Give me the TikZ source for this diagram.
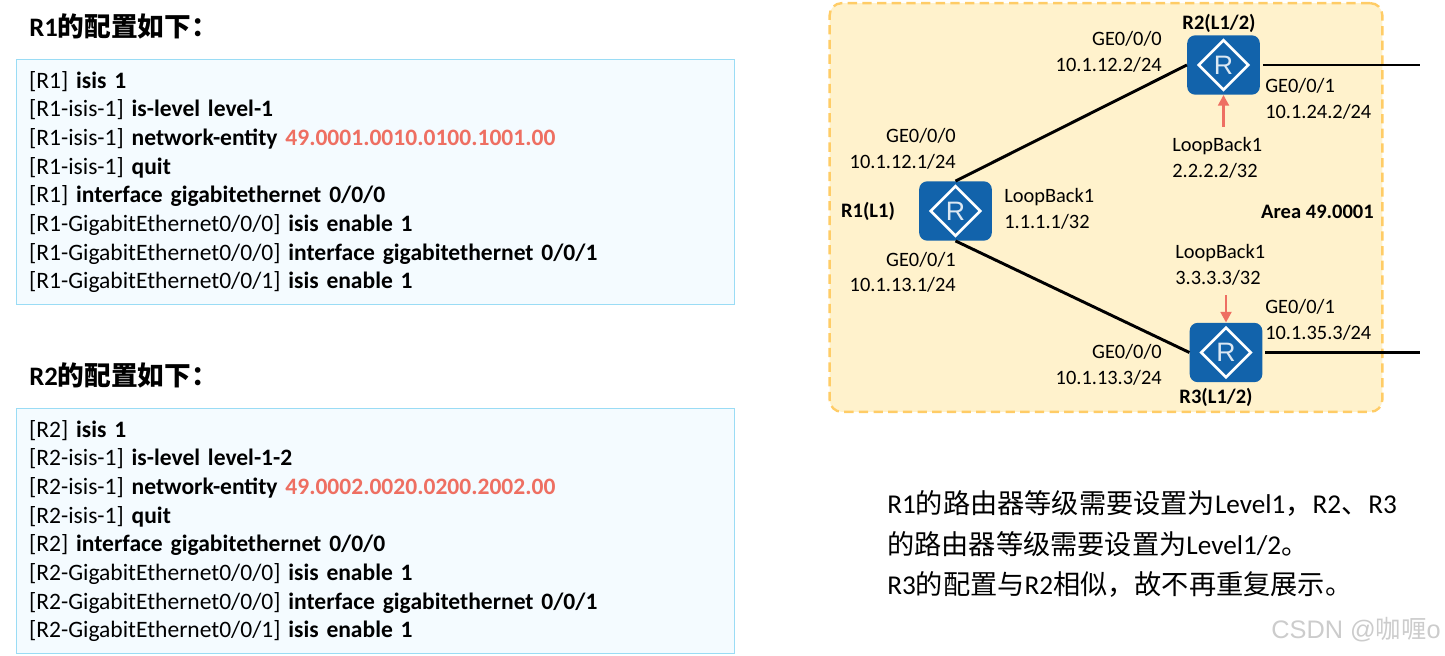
\documentclass[tikz,border=0pt]{standalone}
\usepackage{fontspec}
\setmainfont{Carlito}
\newfontfamily\cjk{Noto Sans CJK SC}
\newfontfamily\wmfont{Liberation Sans}
\usetikzlibrary{arrows.meta,shapes.geometric}
\definecolor{codefill}{HTML}{F4FBFF}
\definecolor{codeline}{HTML}{9ADCF5}
\definecolor{accent}{HTML}{EE6F62}
\definecolor{areafill}{HTML}{FFF2CC}
\definecolor{arealine}{HTML}{FFCC66}
\definecolor{routerblue}{HTML}{1263AB}
\newcommand{\zh}[1]{{\cjk #1}}
\newcommand{\hl}[1]{\textcolor{accent}{#1}}
\tikzset{
  x=0.75pt,y=-0.75pt,
  codebox/.style={draw=codeline,line width=0.6pt,fill=codefill,minimum width=539pt,minimum height=184pt,
    text width=519.5pt,inner xsep=9.5pt,inner ysep=0pt,align=left,font=\fontsize{17.65}{21.5}\selectfont},
  heading/.style={anchor=west,inner sep=0pt,font=\fontsize{20}{24}\selectfont\bfseries},
  routerbox/.style={draw=none,fill=routerblue,rounded corners=6pt,minimum width=54.5pt,minimum height=44.5pt,inner sep=0pt},
  rdiamond/.style={diamond,draw=white,line width=2pt,minimum width=38pt,minimum height=38pt,aspect=1,inner sep=0pt,
    text=white!85!routerblue,font=\fontsize{20}{20}\wmfont},
  lab/.style={inner sep=0pt,align=left,font=\fontsize{15.3}{19.2}\selectfont},
  labr/.style={inner sep=0pt,align=right,font=\fontsize{15.3}{19.2}\selectfont},
  rname/.style={inner sep=0pt,font=\fontsize{15.4}{16}\selectfont\bfseries},
  link/.style={line width=2.2pt,black},
  loop/.style={accent,line width=2.2pt,-{Triangle[length=8pt,width=8pt]}},
  note/.style={inner sep=0pt,anchor=west,align=left,font=\fontsize{20.4}{30.7}\selectfont},
}
\begin{document}
\begin{tikzpicture}
\useasboundingbox (0,0) rectangle (1445,656);

\node[heading] (h1) at (29,26.5) {R1\zh{\bfseries 的配置如下：}};
\node[codebox] (c1) at (375.5,182) {%
{[R1]} \textbf{isis 1}\\
{[R1-isis-1]} \textbf{is-level level-1}\\
{[R1-isis-1]} \textbf{network-entity \hl{49.0001.0010.0100.1001.00}}\\
{[R1-isis-1]} \textbf{quit}\\
{[R1]} \textbf{interface gigabitethernet 0/0/0}\\
{[R1-GigabitEthernet0/0/0]} \textbf{isis enable 1}\\
{[R1-GigabitEthernet0/0/0]} \textbf{interface gigabitethernet 0/0/1}\\
{[R1-GigabitEthernet0/0/1]} \textbf{isis enable 1}};

\node[heading] (h2) at (29,375.5) {R2\zh{\bfseries 的配置如下：}};
\node[codebox] (c2) at (375.5,531) {%
{[R2]} \textbf{isis 1}\\
{[R2-isis-1]} \textbf{is-level level-1-2}\\
{[R2-isis-1]} \textbf{network-entity \hl{49.0002.0020.0200.2002.00}}\\
{[R2-isis-1]} \textbf{quit}\\
{[R2]} \textbf{interface gigabitethernet 0/0/0}\\
{[R2-GigabitEthernet0/0/0]} \textbf{isis enable 1}\\
{[R2-GigabitEthernet0/0/0]} \textbf{interface gigabitethernet 0/0/1}\\
{[R2-GigabitEthernet0/0/1]} \textbf{isis enable 1}};

\node[draw=arealine,fill=areafill,line width=1.8pt,dash pattern=on 7pt off 4pt,rounded corners=9pt,
  minimum width=414.5pt,minimum height=306.5pt,inner sep=0pt] (area) at (1106,207.5) {};

\node[routerbox] (R1) at (955.5,211) {};
\node[rdiamond] (d1) at (R1.center) {R};
\node[routerbox] (R2) at (1223.5,65) {};
\node[rdiamond] (d2) at (R2.center) {R};
\node[routerbox] (R3) at (1226,352.5) {};
\node[rdiamond] (d3) at (R3.center) {R};

\coordinate (e2) at (1420,65);
\coordinate (e3) at (1420,352.5);
\coordinate (l2) at (1223.5,127);
\coordinate (l3) at (1226,295);

\draw[link] (R1.north) -- (R2.west);
\draw[link] (R1.south) -- (R3.west);
\draw[link] ([xshift=2pt]R2.east) -- (e2);
\draw[link] ([xshift=2pt]R3.east) -- (e3);
\draw[loop] (l2) -- (R2.south);
\draw[loop] (l3) -- (R3.north);

\node[rname] (n1) at (868,211) {R1(L1)};
\node[rname] (n2) at (1219,23) {R2(L1/2)};
\node[rname] (n3) at (1216,397) {R3(L1/2)};
\node[rname] (na) at (1317.5,211.5) {Area 49.0001};

\node[labr,anchor=east] (a1) at (956,149) {GE0/0/0\\10.1.12.1/24};
\node[labr,anchor=east] (a2) at (956,272.5) {GE0/0/1\\10.1.13.1/24};
\node[labr,anchor=east] (a3) at (1162,52) {GE0/0/0\\10.1.12.2/24};
\node[labr,anchor=east] (a4) at (1162,365) {GE0/0/0\\10.1.13.3/24};
\node[lab,anchor=west] (a5) at (1004,209) {LoopBack1\\1.1.1.1/32};
\node[lab,anchor=west] (a6) at (1265,99) {GE0/0/1\\10.1.24.2/24};
\node[lab,anchor=west] (a7) at (1172,158) {LoopBack1\\2.2.2.2/32};
\node[lab,anchor=west] (a8) at (1175,265) {LoopBack1\\3.3.3.3/32};
\node[lab,anchor=west] (a9) at (1265,320) {GE0/0/1\\10.1.35.3/24};

\node[note] (t) at (887,544) {R1\zh{的路由器等级需要设置为}Level1\zh{，}R2\zh{、}R3\\
\zh{的路由器等级需要设置为}Level1/2\zh{。}\\
R3\zh{的配置与}R2\zh{相似，故不再重复展示。}};

\node[inner sep=0pt,anchor=east,text=black!20,font=\fontsize{19}{19}\wmfont] (wm) at (1441,630) {CSDN @\zh{咖喱}o};
\end{tikzpicture}
\end{document}
